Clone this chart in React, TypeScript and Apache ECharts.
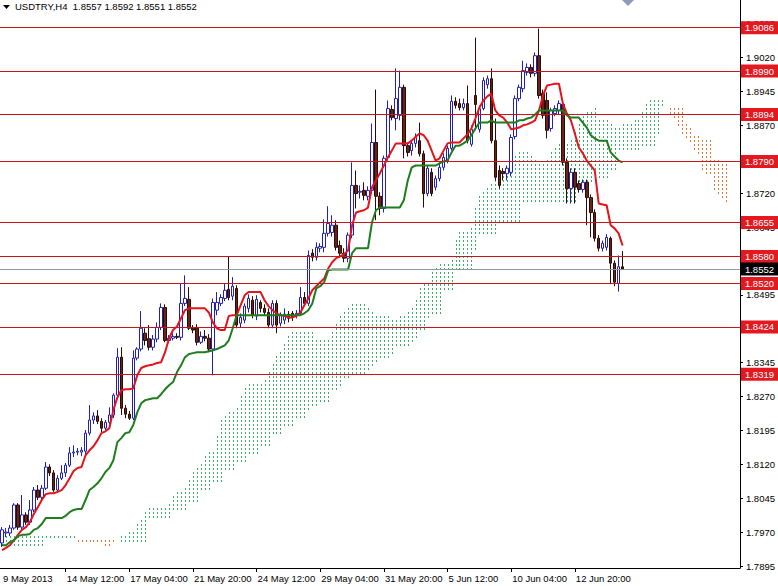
import { useEffect, useRef } from "react";
import * as echarts from "echarts";

// ---- price data (H4 bars, index 0 = 9 May 2013 20:00) ----
const opens = [
  1.7946, 1.7968, 1.7968, 1.7979, 1.8030, 1.7981, 1.8008, 1.7992, 1.8019, 1.8063,
  1.8047, 1.8067, 1.8114, 1.8101, 1.8063, 1.8089, 1.8101, 1.8118, 1.8145, 1.8147,
  1.8147, 1.8149, 1.8189, 1.8218, 1.8227, 1.8215, 1.8200, 1.8213, 1.8229, 1.8273,
  1.8357, 1.8244, 1.8231, 1.8222, 1.8355, 1.8375, 1.8410, 1.8398, 1.8379, 1.8397,
  1.8423, 1.8467, 1.8394, 1.8399, 1.8403, 1.8401, 1.8476, 1.8485, 1.8421, 1.8421,
  1.8390, 1.8403, 1.8399, 1.8375, 1.8461, 1.8476, 1.8487, 1.8507, 1.8492, 1.8509,
  1.8432, 1.8439, 1.8465, 1.8483, 1.8448, 1.8478, 1.8465, 1.8456, 1.8428, 1.8476,
  1.8432, 1.8439, 1.8452, 1.8454, 1.8450, 1.8454, 1.8489, 1.8476, 1.8587, 1.8578,
  1.8598, 1.8600, 1.8631, 1.8633, 1.8649, 1.8604, 1.8587, 1.8576, 1.8627, 1.8737,
  1.8722, 1.8726, 1.8713, 1.8726, 1.8832, 1.8713, 1.8686, 1.8799, 1.8905, 1.8885,
  1.8892, 1.8954, 1.8825, 1.8814, 1.8830, 1.8836, 1.8807, 1.8719, 1.8766, 1.8733,
  1.8752, 1.8777, 1.8792, 1.8819, 1.8923, 1.8918, 1.8909, 1.8918, 1.8828, 1.8936,
  1.8861, 1.8907, 1.8960, 1.8973, 1.8836, 1.8770, 1.8768, 1.8763, 1.8766, 1.8845,
  1.8929, 1.8951, 1.8987, 1.8998, 1.8985, 1.9024, 1.8941, 1.8925, 1.8863, 1.8896,
  1.8903, 1.8916, 1.8788, 1.8730, 1.8766, 1.8741, 1.8728, 1.8744, 1.8710, 1.8677,
  1.8620, 1.8598, 1.8600, 1.8620, 1.8565, 1.8520, 1.8557,
];
const highs = [
  1.7981, 1.7979, 1.7986, 1.8034, 1.8034, 1.8052, 1.8014, 1.8041, 1.8070, 1.8074,
  1.8074, 1.8125, 1.8120, 1.8107, 1.8096, 1.8118, 1.8123, 1.8158, 1.8162, 1.8156,
  1.8158, 1.8196, 1.8251, 1.8235, 1.8240, 1.8222, 1.8218, 1.8246, 1.8277, 1.8377,
  1.8379, 1.8251, 1.8238, 1.8372, 1.8379, 1.8459, 1.8421, 1.8428, 1.8406, 1.8434,
  1.8476, 1.8474, 1.8406, 1.8410, 1.8410, 1.8520, 1.8538, 1.8512, 1.8428, 1.8430,
  1.8414, 1.8417, 1.8408, 1.8487, 1.8501, 1.8496, 1.8520, 1.8580, 1.8534, 1.8516,
  1.8454, 1.8476, 1.8496, 1.8492, 1.8494, 1.8483, 1.8474, 1.8465, 1.8483, 1.8483,
  1.8456, 1.8465, 1.8459, 1.8459, 1.8461, 1.8512, 1.8501, 1.8593, 1.8596, 1.8611,
  1.8609, 1.8662, 1.8691, 1.8671, 1.8660, 1.8615, 1.8598, 1.8633, 1.8788, 1.8770,
  1.8737, 1.8744, 1.8735, 1.8874, 1.8949, 1.8722, 1.8803, 1.8925, 1.8914, 1.8996,
  1.8991, 1.8960, 1.8832, 1.8836, 1.8852, 1.8876, 1.8814, 1.8781, 1.8775, 1.8759,
  1.8786, 1.8808, 1.8825, 1.8936, 1.8932, 1.8929, 1.8929, 1.8958, 1.8870, 1.9064,
  1.8914, 1.8976, 1.8980, 1.8996, 1.8885, 1.8781, 1.8775, 1.8781, 1.8850, 1.8936,
  1.8960, 1.9013, 1.9007, 1.9005, 1.9031, 1.9084, 1.8949, 1.8943, 1.8909, 1.8914,
  1.8925, 1.8925, 1.8797, 1.8775, 1.8775, 1.8748, 1.8750, 1.8750, 1.8717, 1.8684,
  1.8627, 1.8615, 1.8629, 1.8624, 1.8571, 1.8582, 1.8592,
];
const lows = [
  1.7937, 1.7959, 1.7961, 1.7975, 1.7975, 1.7975, 1.7986, 1.7986, 1.8014, 1.8041,
  1.8041, 1.8063, 1.8094, 1.8059, 1.8059, 1.8085, 1.8092, 1.8114, 1.8136, 1.8140,
  1.8138, 1.8140, 1.8184, 1.8209, 1.8209, 1.8191, 1.8196, 1.8209, 1.8222, 1.8266,
  1.8229, 1.8222, 1.8218, 1.8218, 1.8350, 1.8370, 1.8383, 1.8372, 1.8372, 1.8390,
  1.8417, 1.8390, 1.8388, 1.8394, 1.8397, 1.8394, 1.8470, 1.8417, 1.8410, 1.8383,
  1.8386, 1.8392, 1.8368, 1.8317, 1.8450, 1.8470, 1.8481, 1.8483, 1.8483, 1.8421,
  1.8423, 1.8432, 1.8456, 1.8443, 1.8439, 1.8456, 1.8448, 1.8421, 1.8421, 1.8410,
  1.8425, 1.8430, 1.8434, 1.8437, 1.8443, 1.8448, 1.8470, 1.8470, 1.8569, 1.8571,
  1.8589, 1.8589, 1.8624, 1.8624, 1.8593, 1.8578, 1.8567, 1.8567, 1.8620, 1.8686,
  1.8708, 1.8704, 1.8704, 1.8719, 1.8660, 1.8671, 1.8677, 1.8792, 1.8881, 1.8859,
  1.8881, 1.8797, 1.8801, 1.8803, 1.8821, 1.8801, 1.8688, 1.8713, 1.8713, 1.8726,
  1.8746, 1.8770, 1.8786, 1.8814, 1.8907, 1.8903, 1.8903, 1.8830, 1.8823, 1.8859,
  1.8854, 1.8903, 1.8951, 1.8830, 1.8748, 1.8730, 1.8748, 1.8748, 1.8757, 1.8839,
  1.8923, 1.8943, 1.8980, 1.8976, 1.8978, 1.8929, 1.8885, 1.8841, 1.8856, 1.8890,
  1.8894, 1.8781, 1.8697, 1.8697, 1.8697, 1.8721, 1.8721, 1.8649, 1.8622, 1.8613,
  1.8591, 1.8591, 1.8593, 1.8520, 1.8514, 1.8502, 1.8551,
];
const closes = [
  1.7975, 1.7970, 1.7979, 1.8030, 1.7981, 1.8008, 1.7992, 1.8019, 1.8063, 1.8047,
  1.8067, 1.8114, 1.8101, 1.8063, 1.8089, 1.8101, 1.8118, 1.8145, 1.8147, 1.8149,
  1.8151, 1.8189, 1.8218, 1.8227, 1.8215, 1.8200, 1.8213, 1.8229, 1.8273, 1.8357,
  1.8244, 1.8231, 1.8222, 1.8355, 1.8375, 1.8421, 1.8394, 1.8379, 1.8397, 1.8423,
  1.8467, 1.8394, 1.8399, 1.8403, 1.8401, 1.8476, 1.8487, 1.8421, 1.8417, 1.8390,
  1.8403, 1.8399, 1.8375, 1.8478, 1.8478, 1.8489, 1.8505, 1.8489, 1.8514, 1.8428,
  1.8445, 1.8470, 1.8487, 1.8450, 1.8485, 1.8465, 1.8456, 1.8428, 1.8476, 1.8428,
  1.8450, 1.8452, 1.8443, 1.8445, 1.8454, 1.8489, 1.8476, 1.8582, 1.8578, 1.8600,
  1.8602, 1.8631, 1.8653, 1.8649, 1.8600, 1.8587, 1.8576, 1.8627, 1.8737, 1.8719,
  1.8724, 1.8715, 1.8726, 1.8832, 1.8713, 1.8686, 1.8797, 1.8907, 1.8887, 1.8929,
  1.8954, 1.8825, 1.8810, 1.8830, 1.8843, 1.8807, 1.8719, 1.8775, 1.8719, 1.8752,
  1.8777, 1.8799, 1.8819, 1.8923, 1.8914, 1.8909, 1.8918, 1.8836, 1.8861, 1.8916,
  1.8907, 1.8969, 1.8973, 1.8836, 1.8755, 1.8737, 1.8763, 1.8775, 1.8843, 1.8929,
  1.8954, 1.8991, 1.8998, 1.8985, 1.9024, 1.8936, 1.8892, 1.8859, 1.8903, 1.8907,
  1.8918, 1.8788, 1.8730, 1.8766, 1.8733, 1.8728, 1.8744, 1.8710, 1.8677, 1.8620,
  1.8598, 1.8609, 1.8622, 1.8565, 1.8523, 1.8557, 1.8552,
];

// ---- Ichimoku ----
const tenkan = [
  1.7930, 1.7935, 1.7941, 1.7952, 1.7964, 1.7975, 1.7981, 1.7992, 1.8010, 1.8025,
  1.8041, 1.8054, 1.8056, 1.8056, 1.8059, 1.8063, 1.8074, 1.8089, 1.8105, 1.8112,
  1.8114, 1.8140, 1.8151, 1.8160, 1.8173, 1.8189, 1.8193, 1.8200, 1.8240, 1.8268,
  1.8284, 1.8286, 1.8286, 1.8288, 1.8317, 1.8333, 1.8337, 1.8339, 1.8341, 1.8344,
  1.8346, 1.8368, 1.8399, 1.8417, 1.8425, 1.8443, 1.8461, 1.8465, 1.8465, 1.8465,
  1.8465, 1.8465, 1.8456, 1.8434, 1.8421, 1.8417, 1.8417, 1.8448, 1.8450, 1.8450,
  1.8472, 1.8494, 1.8501, 1.8501, 1.8501, 1.8501, 1.8483, 1.8470, 1.8461, 1.8454,
  1.8450, 1.8448, 1.8445, 1.8445, 1.8448, 1.8456, 1.8472, 1.8487, 1.8505, 1.8514,
  1.8523, 1.8531, 1.8553, 1.8567, 1.8576, 1.8580, 1.8585, 1.8593, 1.8649, 1.8677,
  1.8680, 1.8682, 1.8688, 1.8733, 1.8748, 1.8764, 1.8781, 1.8799, 1.8814, 1.8830,
  1.8830, 1.8830, 1.8830, 1.8836, 1.8845, 1.8852, 1.8848, 1.8836, 1.8814, 1.8792,
  1.8797, 1.8814, 1.8830, 1.8832, 1.8832, 1.8832, 1.8841, 1.8850, 1.8863, 1.8885,
  1.8909, 1.8925, 1.8934, 1.8940, 1.8903, 1.8892, 1.8887, 1.8876, 1.8861, 1.8863,
  1.8865, 1.8870, 1.8872, 1.8876, 1.8881, 1.8903, 1.8936, 1.8958, 1.8960, 1.8962,
  1.8962, 1.8918, 1.8896, 1.8881, 1.8852, 1.8821, 1.8808, 1.8792, 1.8781, 1.8770,
  1.8697, 1.8695, 1.8693, 1.8649, 1.8642, 1.8631, 1.8604,
];
const kijun = [
  1.7941, 1.7941, 1.7948, 1.7952, 1.7961, 1.7964, 1.7964, 1.7966, 1.7975, 1.7979,
  1.7988, 1.8001, 1.8001, 1.8001, 1.8001, 1.8001, 1.8006, 1.8014, 1.8019, 1.8021,
  1.8021, 1.8041, 1.8063, 1.8070, 1.8078, 1.8089, 1.8103, 1.8112, 1.8129, 1.8169,
  1.8178, 1.8189, 1.8191, 1.8207, 1.8235, 1.8255, 1.8262, 1.8264, 1.8266, 1.8266,
  1.8275, 1.8286, 1.8295, 1.8302, 1.8324, 1.8339, 1.8357, 1.8364, 1.8366, 1.8368,
  1.8368, 1.8368, 1.8370, 1.8372, 1.8375, 1.8379, 1.8383, 1.8394, 1.8421, 1.8450,
  1.8450, 1.8450, 1.8450, 1.8450, 1.8450, 1.8450, 1.8450, 1.8450, 1.8450, 1.8450,
  1.8450, 1.8450, 1.8450, 1.8450, 1.8450, 1.8450, 1.8454, 1.8461, 1.8476, 1.8509,
  1.8514, 1.8523, 1.8549, 1.8551, 1.8551, 1.8551, 1.8551, 1.8551, 1.8587, 1.8598,
  1.8598, 1.8598, 1.8598, 1.8655, 1.8682, 1.8688, 1.8688, 1.8688, 1.8688, 1.8688,
  1.8688, 1.8704, 1.8748, 1.8777, 1.8781, 1.8781, 1.8781, 1.8781, 1.8781, 1.8781,
  1.8786, 1.8790, 1.8792, 1.8810, 1.8825, 1.8825, 1.8830, 1.8836, 1.8848, 1.8863,
  1.8876, 1.8876, 1.8876, 1.8881, 1.8876, 1.8876, 1.8876, 1.8876, 1.8876, 1.8876,
  1.8881, 1.8881, 1.8885, 1.8887, 1.8894, 1.8903, 1.8903, 1.8903, 1.8903, 1.8903,
  1.8903, 1.8903, 1.8892, 1.8887, 1.8887, 1.8887, 1.8876, 1.8865, 1.8848, 1.8841,
  1.8836, 1.8836, 1.8836, 1.8810, 1.8801, 1.8792, 1.8788,
];
const spanA = [
  1.7968, 1.7968, 1.7968, 1.7968, 1.7968, 1.7968, 1.7968, 1.7968, 1.7968, 1.7968,
  1.7968, 1.7962, 1.7962, 1.7962, 1.7962, 1.7962, 1.7962, 1.7962, 1.7962, 1.7945,
  1.7945, 1.7945, 1.7945, 1.7945, 1.7945, 1.7945, 1.7936, 1.7938, 1.7945, 1.7952,
  1.7963, 1.7970, 1.7973, 1.7979, 1.7993, 1.8002, 1.8015, 1.8028, 1.8029, 1.8029,
  1.8030, 1.8032, 1.8040, 1.8052, 1.8062, 1.8067, 1.8068, 1.8091, 1.8107, 1.8115,
  1.8126, 1.8139, 1.8148, 1.8156, 1.8185, 1.8219, 1.8231, 1.8238, 1.8239, 1.8248,
  1.8276, 1.8294, 1.8300, 1.8302, 1.8304, 1.8305, 1.8311, 1.8327, 1.8347, 1.8360,
  1.8375, 1.8391, 1.8409, 1.8415, 1.8416, 1.8417, 1.8417, 1.8417, 1.8413, 1.8403,
  1.8398, 1.8398, 1.8400, 1.8421, 1.8436, 1.8450, 1.8461, 1.8472, 1.8476, 1.8476,
  1.8476, 1.8476, 1.8467, 1.8460, 1.8456, 1.8452, 1.8450, 1.8449, 1.8448, 1.8448,
  1.8449, 1.8453, 1.8463, 1.8474, 1.8491, 1.8512, 1.8519, 1.8527, 1.8551, 1.8559,
  1.8564, 1.8566, 1.8568, 1.8572, 1.8618, 1.8638, 1.8639, 1.8640, 1.8643, 1.8694,
  1.8715, 1.8726, 1.8735, 1.8744, 1.8751, 1.8759, 1.8759, 1.8767, 1.8789, 1.8807,
  1.8813, 1.8817, 1.8815, 1.8809, 1.8798, 1.8787, 1.8792, 1.8802, 1.8811, 1.8821,
  1.8829, 1.8829, 1.8836, 1.8843, 1.8856, 1.8874, 1.8893, 1.8901, 1.8905, 1.8911,
  1.8890, 1.8884, 1.8882, 1.8876, 1.8869, 1.8870, 1.8873, 1.8876, 1.8879, 1.8882,
  1.8888, 1.8903, 1.8920, 1.8931, 1.8932, 1.8933, 1.8933, 1.8911, 1.8894, 1.8884,
  1.8870, 1.8854, 1.8842, 1.8829, 1.8815, 1.8806, 1.8767, 1.8766, 1.8765, 1.8730,
  1.8722, 1.8712, 1.8696,
];
const spanB = [
  1.7943, 1.7943, 1.7943, 1.7943, 1.7943, 1.7943, 1.7943, 1.7943, 1.7943, 1.7943,
  1.7943, 1.7955, 1.7955, 1.7955, 1.7955, 1.7955, 1.7955, 1.7955, 1.7955, 1.7955,
  1.7955, 1.7955, 1.7955, 1.7955, 1.7955, 1.7955, 1.7955, 1.7955, 1.7955, 1.7948,
  1.7948, 1.7948, 1.7948, 1.7948, 1.7948, 1.7948, 1.7948, 1.7997, 1.7997, 1.7997,
  1.7997, 1.7997, 1.7997, 1.8019, 1.8019, 1.8019, 1.8019, 1.8041, 1.8041, 1.8041,
  1.8063, 1.8063, 1.8063, 1.8085, 1.8085, 1.8085, 1.8107, 1.8107, 1.8107, 1.8129,
  1.8129, 1.8129, 1.8145, 1.8145, 1.8145, 1.8160, 1.8160, 1.8160, 1.8190, 1.8190,
  1.8190, 1.8205, 1.8205, 1.8205, 1.8219, 1.8219, 1.8219, 1.8238, 1.8249, 1.8250,
  1.8257, 1.8257, 1.8257, 1.8283, 1.8283, 1.8297, 1.8311, 1.8311, 1.8320, 1.8320,
  1.8320, 1.8320, 1.8333, 1.8336, 1.8347, 1.8358, 1.8359, 1.8359, 1.8360, 1.8382,
  1.8386, 1.8386, 1.8386, 1.8395, 1.8403, 1.8415, 1.8415, 1.8440, 1.8455, 1.8455,
  1.8455, 1.8504, 1.8504, 1.8504, 1.8553, 1.8553, 1.8553, 1.8553, 1.8553, 1.8596,
  1.8633, 1.8633, 1.8633, 1.8633, 1.8633, 1.8657, 1.8657, 1.8657, 1.8657, 1.8657,
  1.8657, 1.8703, 1.8703, 1.8703, 1.8703, 1.8703, 1.8703, 1.8703, 1.8703, 1.8703,
  1.8703, 1.8703, 1.8703, 1.8703, 1.8703, 1.8737, 1.8737, 1.8745, 1.8747, 1.8749,
  1.8751, 1.8754, 1.8756, 1.8767, 1.8767, 1.8816, 1.8816, 1.8816, 1.8816, 1.8816,
  1.8816, 1.8826, 1.8826, 1.8826, 1.8826, 1.8852, 1.8915, 1.8915, 1.8915, 1.8915,
  1.8915, 1.8915, 1.8878, 1.8867, 1.8853, 1.8849, 1.8838, 1.8838, 1.8838, 1.8802,
  1.8799, 1.8793, 1.8793,
];

// ---- levels, axis ticks, time labels ----
const levels = [1.9086, 1.899, 1.8894, 1.879, 1.8655, 1.858, 1.852, 1.8424, 1.8319];
const lastPrice = 1.8552;
const priceTicks = [
  1.7895, 1.797, 1.8045, 1.812, 1.8195, 1.827, 1.8345, 1.842, 1.8495,
  1.857, 1.8645, 1.872, 1.8795, 1.887, 1.8945, 1.902, 1.9095,
];
const timeLabels = [
  "9 May 2013", "14 May 12:00", "17 May 04:00", "21 May 20:00", "24 May 12:00",
  "29 May 04:00", "31 May 20:00", "5 Jun 12:00", "10 Jun 04:00", "12 Jun 20:00",
];
const labelStep = 16;
const slotCount = 186;
const yMin = 1.78906;
const yMax = 1.91472;

const FONT = "'Liberation Sans', Arial, sans-serif";
const FS = 9.5;
const GREEN_CLOUD = "#3aae6a";
const ORANGE_CLOUD = "#e8742e";

export default function App() {
  const ref = useRef<HTMLDivElement>(null);

  useEffect(() => {
    if (!ref.current) return;
    const chart = echarts.init(ref.current, null, { renderer: "svg" });
    const n = opens.length - 1;
    const categories = Array.from({ length: slotCount }, (_, i) => String(i));
    const candleData = opens.map((o, i) => [o, closes[i], lows[i], highs[i]]);
    const cloudData = spanA.map((a, i) => [i, a, spanB[i]]);

    const levelLines: any[] = levels.map((v) => ({
      yAxis: v,
      lineStyle: { color: "#c4161c", width: 1, type: "solid" },
      label: { backgroundColor: "#e3191f" },
    }));
    levelLines.push({
      yAxis: lastPrice,
      lineStyle: { color: "#8c9a9a", width: 1, type: "solid" },
      label: { backgroundColor: "#000000" },
    });

    chart.setOption({
      animation: false,
      backgroundColor: "#ffffff",
      textStyle: { fontFamily: FONT },
      tooltip: { show: false },
      grid: { left: -2, right: 37, top: 0, bottom: 18, containLabel: false },
      xAxis: {
        type: "category",
        data: categories,
        boundaryGap: true,
        axisLine: { show: true, lineStyle: { color: "#000", width: 1 } },
        axisTick: {
          show: true,
          alignWithLabel: true,
          length: 4,
          interval: (idx: number) => idx > 0 && idx % labelStep === 0 && idx / labelStep < timeLabels.length,
          lineStyle: { color: "#000" },
        },
        axisLabel: {
          show: true,
          interval: (idx: number) => idx % labelStep === 0 && idx / labelStep < timeLabels.length,
          formatter: (_v: string, idx: number) => timeLabels[idx / labelStep] || "",
          align: "left",
          margin: 5,
          color: "#000",
          fontSize: FS,
          fontFamily: FONT,
          padding: [0, 0, 0, 1],
        },
        splitLine: { show: false },
      },
      yAxis: {
        type: "value",
        position: "right",
        min: yMin,
        max: yMax,
        scale: true,
        axisLine: { show: true, lineStyle: { color: "#000", width: 1 } },
        axisTick: { show: true, length: 3, customValues: priceTicks, lineStyle: { color: "#000" } },
        axisLabel: {
          show: true,
          customValues: priceTicks,
          formatter: (v: number) => v.toFixed(4),
          color: "#000",
          fontSize: FS,
          fontFamily: FONT,
          margin: 6,
        },
        splitLine: { show: false },
      },
      graphic: [
        {
          type: "polygon",
          shape: { points: [[3, 5], [10, 5], [6.5, 9]] },
          style: { fill: "#000" },
          silent: true,
        },
        {
          type: "text",
          x: 15,
          y: 1,
          style: {
            text: `USDTRY,H4  ${opens[n].toFixed(4)} ${highs[n].toFixed(4)} ${lows[n].toFixed(4)} ${closes[n].toFixed(4)}`,
            fontSize: FS,
            fontFamily: FONT,
            fill: "#000",
          },
          silent: true,
        },
        {
          type: "polygon",
          shape: { points: [[622, 0], [634, 0], [628, 6]] },
          style: { fill: "#8d9cb8" },
          silent: true,
        },
      ],
      series: [
        {
          name: "cloud",
          type: "custom",
          z: 1,
          silent: true,
          encode: { x: 0, y: [1, 2] },
          data: cloudData,
          renderItem: (_params: any, api: any) => {
            const idx = api.value(0);
            const a = api.value(1);
            const b = api.value(2);
            const pa = api.coord([idx, a]);
            const pb = api.coord([idx, b]);
            const x = Math.round(pa[0]);
            const top = Math.min(pa[1], pb[1]);
            const bot = Math.max(pa[1], pb[1]);
            const color = a >= b ? GREEN_CLOUD : ORANGE_CLOUD;
            const children: any[] = [];
            for (let y = Math.ceil(top / 4) * 4; y <= bot; y += 4) {
              children.push({
                type: "rect",
                shape: { x, y, width: 1, height: 2 },
                style: { fill: color, stroke: null },
              });
            }
            return { type: "group", children };
          },
        },
        {
          name: "levels",
          type: "line",
          data: [],
          z: 2,
          clip: false,
          markLine: {
            silent: true,
            symbol: ["none", "none"],
            precision: 4,
            animation: false,
            label: {
              show: true,
              position: "end",
              distance: 1,
              formatter: (p: any) => Number(p.value).toFixed(4),
              color: "#fff",
              fontSize: FS,
              fontFamily: FONT,
              padding: [2, 5, 1, 4],
            },
            data: levelLines,
          },
        },
        {
          name: "USDTRY",
          type: "candlestick",
          z: 3,
          barWidth: 3,
          data: candleData,
          itemStyle: {
            color: "#ffffff",
            color0: "#6a2417",
            borderColor: "#2020b8",
            borderColor0: "#2a0a05",
            borderWidth: 1,
          },
        },
        {
          name: "Tenkan-sen",
          type: "line",
          z: 4,
          data: tenkan,
          symbol: "none",
          lineStyle: { color: "#e3141b", width: 2 },
        },
        {
          name: "Kijun-sen",
          type: "line",
          z: 4,
          data: kijun,
          symbol: "none",
          lineStyle: { color: "#1e7d1e", width: 2 },
        },
      ],
    });

    return () => chart.dispose();
  }, []);

  return (
    <div
      ref={ref}
      style={{ position: "absolute", left: 0, top: 0, width: 778, height: 586, background: "#fff" }}
    />
  );
}
